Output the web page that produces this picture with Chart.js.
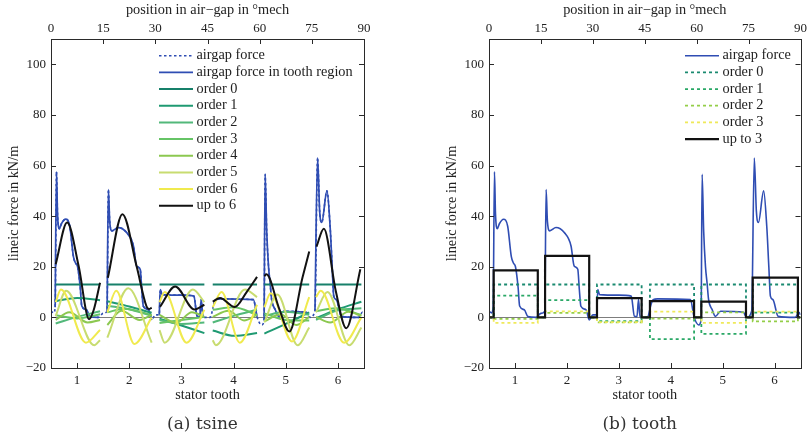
<!DOCTYPE html>
<html>
<head>
<meta charset="utf-8">
<title>lineic force per stator tooth</title>
<script src="https://cdn.jsdelivr.net/npm/chart.js@4.4.0/dist/chart.umd.min.js"></script>
<style>
  body { margin: 0; background: #fff; }
  #figure { position: relative; width: 810px; height: 439px; }
  canvas { position: absolute; top: 0; }
  #chart-tsine { left: 0; }
  #chart-tooth { left: 405px; }
</style>
</head>
<body>
<div id="figure">
  <canvas id="chart-tsine" width="405" height="439"></canvas>
  <canvas id="chart-tooth" width="405" height="439"></canvas>
</div>
<script>
(function () {

    'use strict';

    // axis ticks: stator teeth below, mechanical degrees on top, force left
    const teeth = [1, 2, 3, 4, 5, 6];
    const degTicks = [0, 15, 30, 45, 60, 75, 90];
    const forceTicks = [-20, 0, 20, 40, 60, 80, 100];

    // where each tooth region starts and ends (in tooth units)
    const toothStart = [0.59, 1.58, 2.58, 3.60, 4.59, 5.58];
    const toothEnd = [1.44, 2.43, 3.44, 4.45, 5.45, 6.45];

    // airgap force along the air-gap, [position, kN/m]
    const airgapForce = [
        [0.50, 2.5], [0.55, 1.8], [0.58, 4], [0.605, 57.5], [0.625, 41], [0.66, 35], [0.70, 37],
        [0.78, 38.8], [0.86, 36], [0.93, 24], [0.97, 21.5], [1.01, 20], [1.06, 12], [1.09, 4.5],
        [1.18, 3], [1.25, 0.3], [1.41, 0], [1.50, 1.6], [1.575, 2.5], [1.60, 50.5], [1.625, 38],
        [1.67, 34.2], [1.79, 35.5], [1.95, 33.5], [2.08, 28.2], [2.14, 20.3], [2.21, 19], [2.24, 11],
        [2.27, 4.4], [2.37, 3], [2.43, -1], [2.50, 1], [2.575, 1], [2.595, 11], [2.63, 9], [3.00, 8.8],
        [3.24, 8.4], [3.30, 0.5], [3.35, 0.3], [3.38, 7], [3.41, 0], [3.55, 0], [3.62, 5], [3.66, 7],
        [3.75, 7.3], [4.38, 7], [4.45, 0.2], [4.54, -3], [4.585, -1], [4.605, 56.5], [4.635, 34],
        [4.67, 20], [4.70, 13.7], [4.73, 7], [4.80, 3], [4.86, 0.4], [4.96, 2.4], [5.40, 2], [5.46, 0],
        [5.56, 2.5], [5.61, 63], [5.65, 42], [5.69, 37.5], [5.79, 50], [5.85, 36], [5.89, 20],
        [5.92, 8.4], [5.97, 7], [6.07, 0.4], [6.40, 0], [6.47, 2], [6.50, 1]
    ];

    // (a) tsine: sine orders per tooth, [position, kN/m]
    const sineOrder0 = [13, 13, 13, 13, 13, 13];
    const sineOrder1 = [
        [[0.59, 6.4], [1.00, 7.7], [1.44, 6.8]],
        [[1.58, 6.4], [2.00, 4.3], [2.43, 1.8]],
        [[2.58, -0.5], [3.00, -3.2], [3.44, -6.2]],
        [[3.60, -5.2], [4.02, -7.3], [4.45, -6.2]],
        [[4.59, -6.4], [5.00, -2.6], [5.45, 2.0]],
        [[5.58, -0.3], [6.00, 3.2], [6.45, 6.2]]
    ];
    const sineOrder2 = [
        [[0.59, -2.4], [1.00, 0.2], [1.44, 2.4]],
        [[1.58, 4.6], [2.00, 3.2], [2.43, 0.6]],
        [[2.58, -1.0], [3.00, -2.6], [3.44, -2.0]],
        [[3.60, -2.0], [4.00, 0.6], [4.45, 3.0]],
        [[4.59, 0.6], [5.00, 2.2], [5.45, 1.0]],
        [[5.58, -1.0], [6.00, 2.8], [6.45, 3.6]]
    ];
    const sineOrder3 = [
        [[0.59, 0.8], [1.00, -0.4], [1.44, 1.2]],
        [[1.58, 2.0], [1.90, 3.4], [2.43, 1.0]],
        [[2.58, -2.2], [3.00, -1.0], [3.44, 0.2]],
        [[3.60, 3.0], [4.00, 4.0], [4.45, 1.0]],
        [[4.59, 1.6], [5.00, -1.0], [5.45, -1.2]],
        [[5.58, 2.4], [5.95, 3.6], [6.45, 1.0]]
    ];
    const sineOrder4 = [
        [[0.59, -1.0], [0.85, 2.0], [1.20, -2.0], [1.44, -1.0]],
        [[1.58, -3.0], [1.85, 2.6], [2.20, -1.0], [2.43, 1.0]],
        [[2.58, 1.0], [2.90, -2.2], [3.20, 2.0], [3.44, 0.2]],
        [[3.60, 0.2], [3.90, 2.6], [4.20, -1.2], [4.45, 1.0]],
        [[4.59, -1.6], [4.90, 1.2], [5.20, -3.0], [5.45, 0.2]],
        [[5.58, 0.2], [5.85, -2.0], [6.20, 2.2], [6.45, 0.6]]
    ];
    const sineOrder5 = [
        [[0.59, 0.5], [0.79, 10.5], [1.33, -11], [1.44, -9]],
        [[1.58, -8], [1.98, 11.5], [2.43, -10]],
        [[2.58, -5], [2.68, -10], [3.22, 11], [3.44, 6]],
        [[3.60, -9], [3.66, -11], [4.22, 11], [4.45, 8]],
        [[4.59, -2], [4.84, 9], [5.23, -11], [5.45, -4]],
        [[5.58, 2], [5.80, 10], [6.22, -11], [6.45, -4]]
    ];
    const sineOrder6 = [
        [[0.59, 6], [0.69, 11], [1.17, -10], [1.44, -5]],
        [[1.58, 2], [1.75, 10.5], [2.10, -10.5], [2.43, 0]],
        [[2.58, 6], [2.68, 10], [3.10, -10], [3.44, 3]],
        [[3.60, 4], [3.77, 10], [4.12, -10], [4.45, 5]],
        [[4.59, 4], [4.71, 9.5], [5.12, -9.5], [5.45, 8]],
        [[5.58, 8], [5.67, 10.5], [6.12, -10], [6.45, 0]]
    ];
    const sineUpTo6 = [
        [[0.59, 21], [0.81, 37.5], [1.03, 20.3], [1.23, -0.7], [1.32, 3], [1.44, 13.7]],
        [[1.59, 15.7], [1.87, 40.8], [2.14, 20.3], [2.33, 4.4], [2.38, 3.3], [2.43, 3.8]],
        [[2.59, 4.2], [2.88, 12.2], [3.25, 3.1], [3.44, 5]],
        [[3.60, 6.2], [3.74, 7.7], [4.02, 4.1], [4.25, 10], [4.45, 16]],
        [[4.59, 16.3], [4.63, 17], [4.87, 3.7], [5.07, -5.6], [5.32, 15.7], [5.45, 26]],
        [[5.59, 28], [5.73, 35], [5.96, 10.3], [6.16, -4.3], [6.43, 19]]
    ];

    // (b) tooth: one constant per tooth and order
    const toothOrder0 = [13, 13, 13, 13, 13, 13];
    const toothOrder1 = [8.6, 6.8, -1.5, -8.6, -6.5, 1.9];
    const toothOrder2 = [-0.6, 1.8, -2.0, -0.5, 2.0, -1.6];
    const toothOrder3 = [-2.2, 2.4, -1.9, 2.3, -2.2, 2.3];
    const toothUpTo3 = [18.6, 24.3, 7.6, 6.4, 6.2, 15.7];

    const FONT = '"Liberation Serif", "DejaVu Serif", serif';
    const CAPTION_FONT = '"DejaVu Serif", serif';
    const TEXT = '#222';
    const FRAME = '#2a2a2a';
    const BLUE = '#2f4db3';
    const BLACK = '#121212';
    const sineColors = ['#17806a', '#1f9a72', '#52b87a', '#66c466', '#8cc850', '#c8dc70', '#f0ea4e'];
    const toothColors = ['#1a8a70', '#2aa866', '#94ce48', '#efe95a'];

    window.addEventListener("load", init);

    function init() {
        drawTsine();
        drawTooth();
    }

    function drawTsine() {
        let datasets = [
            line('airgap force', toPoints([airgapForce]), BLUE, 1.6, [2.5, 2.5]),
            line('airgap force in tooth region', toPoints(inToothRegion(airgapForce)), BLUE, 1.7),
            line('order 0', toPoints(levelSegments(sineOrder0)), sineColors[0], 2),
            line('order 1', toPoints(sineOrder1), sineColors[1], 2),
            line('order 2', toPoints(sineOrder2), sineColors[2], 2),
            line('order 3', toPoints(sineOrder3), sineColors[3], 2),
            line('order 4', toPoints(sineOrder4), sineColors[4], 2),
            line('order 5', toPoints(sineOrder5), sineColors[5], 2),
            line('order 6', toPoints(sineOrder6), sineColors[6], 2),
            line('up to 6', toPoints(sineUpTo6), BLACK, 2)
        ];
        makeChart(id("chart-tsine"), datasets, 51, 41, {legendX: 159, caption: '(a) tsine'});
    }

    function drawTooth() {
        let datasets = [
            line('airgap force', toPoints([airgapForce]), BLUE, 1.6),
            line('order 0', stepPoints(toothOrder0), toothColors[0], 1.8, [3, 3], true),
            line('order 1', stepPoints(toothOrder1), toothColors[1], 1.8, [3, 3], true),
            line('order 2', stepPoints(toothOrder2), toothColors[2], 1.8, [3, 3], true),
            line('order 3', stepPoints(toothOrder3), toothColors[3], 1.8, [3, 3], true),
            line('up to 3', stepPoints(toothUpTo3), BLACK, 2.2, [], true)
        ];
        makeChart(id("chart-tooth"), datasets, 84, 8, {legendX: 280, caption: '(b) tooth'});
    }

    function makeChart(canvas, datasets, leftWidth, rightWidth, deco) {
        // later datasets are painted on top
        datasets.forEach((ds, i) => { ds.order = datasets.length - i; });
        return new Chart(canvas, {
            type: 'line',
            data: { datasets: datasets },
            options: {
                responsive: false,
                animation: false,
                parsing: false,
                layout: { padding: 0 },
                plugins: {
                    legend: { display: false },
                    tooltip: { enabled: false },
                    decorate: deco
                },
                scales: scalesFor(leftWidth, rightWidth)
            },
            plugins: [decorate]
        });
    }

    function scalesFor(leftWidth, rightWidth) {
        const font = { family: FONT, size: 13 };
        const hidden = { grid: { display: false, drawTicks: false }, border: { display: false } };
        const forceTickList = (s) => { s.ticks = forceTicks.map(v => ({ value: v })); };
        return {
            x: Object.assign({
                type: 'linear', axis: 'x', position: 'bottom', min: 0.5, max: 6.5,
                afterBuildTicks: (s) => { s.ticks = teeth.map(v => ({ value: v })); },
                afterFit: (s) => { s.height = 71; },
                ticks: { font: font, color: TEXT, padding: 5, autoSkip: false, maxRotation: 0 }
            }, hidden),
            x2: Object.assign({
                type: 'linear', axis: 'x', position: 'top', min: 0.5, max: 6.5,
                afterBuildTicks: (s) => { s.ticks = degTicks.map(d => ({ value: 0.5 + d / 15 })); },
                afterFit: (s) => { s.height = 39; },
                ticks: {
                    font: font, color: TEXT, padding: 3, autoSkip: false, maxRotation: 0,
                    callback: (v) => Math.round((v - 0.5) * 15)
                }
            }, hidden),
            y: Object.assign({
                type: 'linear', axis: 'y', position: 'left', min: -20, max: 110,
                afterBuildTicks: forceTickList,
                afterFit: (s) => { s.width = leftWidth; },
                ticks: {
                    font: font, color: TEXT, padding: 5,
                    callback: (v) => v < 0 ? '\u2212' + Math.abs(v) : v
                }
            }, hidden),
            y2: Object.assign({
                type: 'linear', axis: 'y', position: 'right', min: -20, max: 110,
                afterBuildTicks: forceTickList,
                afterFit: (s) => { s.width = rightWidth; },
                ticks: { display: false }
            }, hidden)
        };
    }

    // zero line, frame with inward ticks, legend and the axis texts
    const decorate = {
        id: 'decorate',
        beforeDatasetsDraw(chart) {
            const ctx = chart.ctx;
            const a = chart.chartArea;
            const y0 = Math.round(chart.scales.y.getPixelForValue(0)) + 0.5;
            ctx.save();
            ctx.strokeStyle = '#7d7d7d';
            ctx.lineWidth = 1;
            ctx.beginPath();
            ctx.moveTo(a.left, y0);
            ctx.lineTo(a.right, y0);
            ctx.stroke();
            ctx.restore();
        },
        afterDraw(chart, args, opts) {
            const ctx = chart.ctx;
            const a = chart.chartArea;
            const sx = chart.scales.x, sx2 = chart.scales.x2, sy = chart.scales.y;
            const tick = 5;
            ctx.save();
            ctx.strokeStyle = FRAME;
            ctx.lineWidth = 1;
            ctx.setLineDash([]);
            ctx.beginPath();
            sx.ticks.forEach(t => {
                const px = Math.round(sx.getPixelForValue(t.value)) + 0.5;
                ctx.moveTo(px, a.bottom);
                ctx.lineTo(px, a.bottom - tick);
            });
            sx2.ticks.forEach(t => {
                const px = Math.round(sx2.getPixelForValue(t.value)) + 0.5;
                ctx.moveTo(px, a.top);
                ctx.lineTo(px, a.top + tick);
            });
            sy.ticks.forEach(t => {
                const py = Math.round(sy.getPixelForValue(t.value)) + 0.5;
                ctx.moveTo(a.left, py);
                ctx.lineTo(a.left + tick, py);
                ctx.moveTo(a.right, py);
                ctx.lineTo(a.right - tick, py);
            });
            ctx.stroke();
            ctx.strokeRect(Math.round(a.left) + 0.5, Math.round(a.top) + 0.5,
                Math.round(a.right - a.left), Math.round(a.bottom - a.top));

            // legend without a box, inside the plot
            const rowY = 55.7, rowStep = 16.67;
            ctx.font = '14.3px ' + FONT;
            ctx.textAlign = 'left';
            ctx.textBaseline = 'middle';
            chart.data.datasets.forEach((ds, i) => {
                const y = rowY + i * rowStep;
                ctx.strokeStyle = ds.borderColor;
                ctx.lineWidth = ds.borderWidth;
                ctx.setLineDash(ds.borderDash || []);
                ctx.beginPath();
                ctx.moveTo(opts.legendX, y);
                ctx.lineTo(opts.legendX + 34, y);
                ctx.stroke();
                ctx.fillStyle = TEXT;
                ctx.fillText(ds.label, opts.legendX + 37.5, y);
            });
            ctx.setLineDash([]);

            // axis titles and caption
            const cx = (a.left + a.right) / 2;
            ctx.fillStyle = TEXT;
            ctx.textAlign = 'center';
            ctx.font = '14.3px ' + FONT;
            ctx.fillText('position in air\u2212gap in \u00b0mech', cx, 10);
            ctx.fillText('stator tooth', cx, 395);
            ctx.save();
            ctx.translate(a.left - 37, (a.top + a.bottom) / 2);
            ctx.rotate(-Math.PI / 2);
            ctx.fillText('lineic force in kN/m', 0, 0);
            ctx.restore();
            ctx.font = '17px ' + CAPTION_FONT;
            ctx.fillStyle = '#333';
            ctx.fillText(opts.caption, cx - 5, 425);
            ctx.restore();
        }
    };

    /* ------------------------------ Helper Functions  ------------------------------ */

    function line(label, data, color, width, dash, straight) {
        return {
            label: label,
            data: data,
            borderColor: color,
            backgroundColor: color,
            borderWidth: width,
            borderDash: dash || [],
            pointRadius: 0,
            fill: false,
            tension: 0,
            cubicInterpolationMode: straight ? 'default' : 'monotone',
            xAxisID: 'x',
            yAxisID: 'y'
        };
    }

    // joins per-tooth segments, leaving a gap between teeth
    function toPoints(segments) {
        let points = [];
        segments.forEach((seg, i) => {
            seg.forEach(p => points.push({ x: p[0], y: p[1] }));
            if (i < segments.length - 1 && segments[i + 1].length) {
                let gapX = (seg[seg.length - 1][0] + segments[i + 1][0][0]) / 2;
                points.push({ x: gapX, y: null });
            }
        });
        return points;
    }

    // the part of the force that lies on a tooth (foot of the rising edge included)
    function inToothRegion(curve) {
        return toothStart.map((s, i) => curve.filter(p => p[0] >= s - 0.025 && p[0] <= toothEnd[i]));
    }

    function levelSegments(levels) {
        return levels.map((v, i) => [[toothStart[i], v], [toothEnd[i], v]]);
    }

    // constant value over each tooth, zero in the slots
    function stepPoints(levels) {
        let points = [{ x: 0.5, y: 0 }];
        levels.forEach((v, i) => {
            points.push({ x: toothStart[i], y: 0 }, { x: toothStart[i], y: v },
                { x: toothEnd[i], y: v }, { x: toothEnd[i], y: 0 });
        });
        points.push({ x: 6.5, y: 0 });
        return points;
    }

    function id(idName) {
        return document.getElementById(idName);
    }

})();
</script>
</body>
</html>
